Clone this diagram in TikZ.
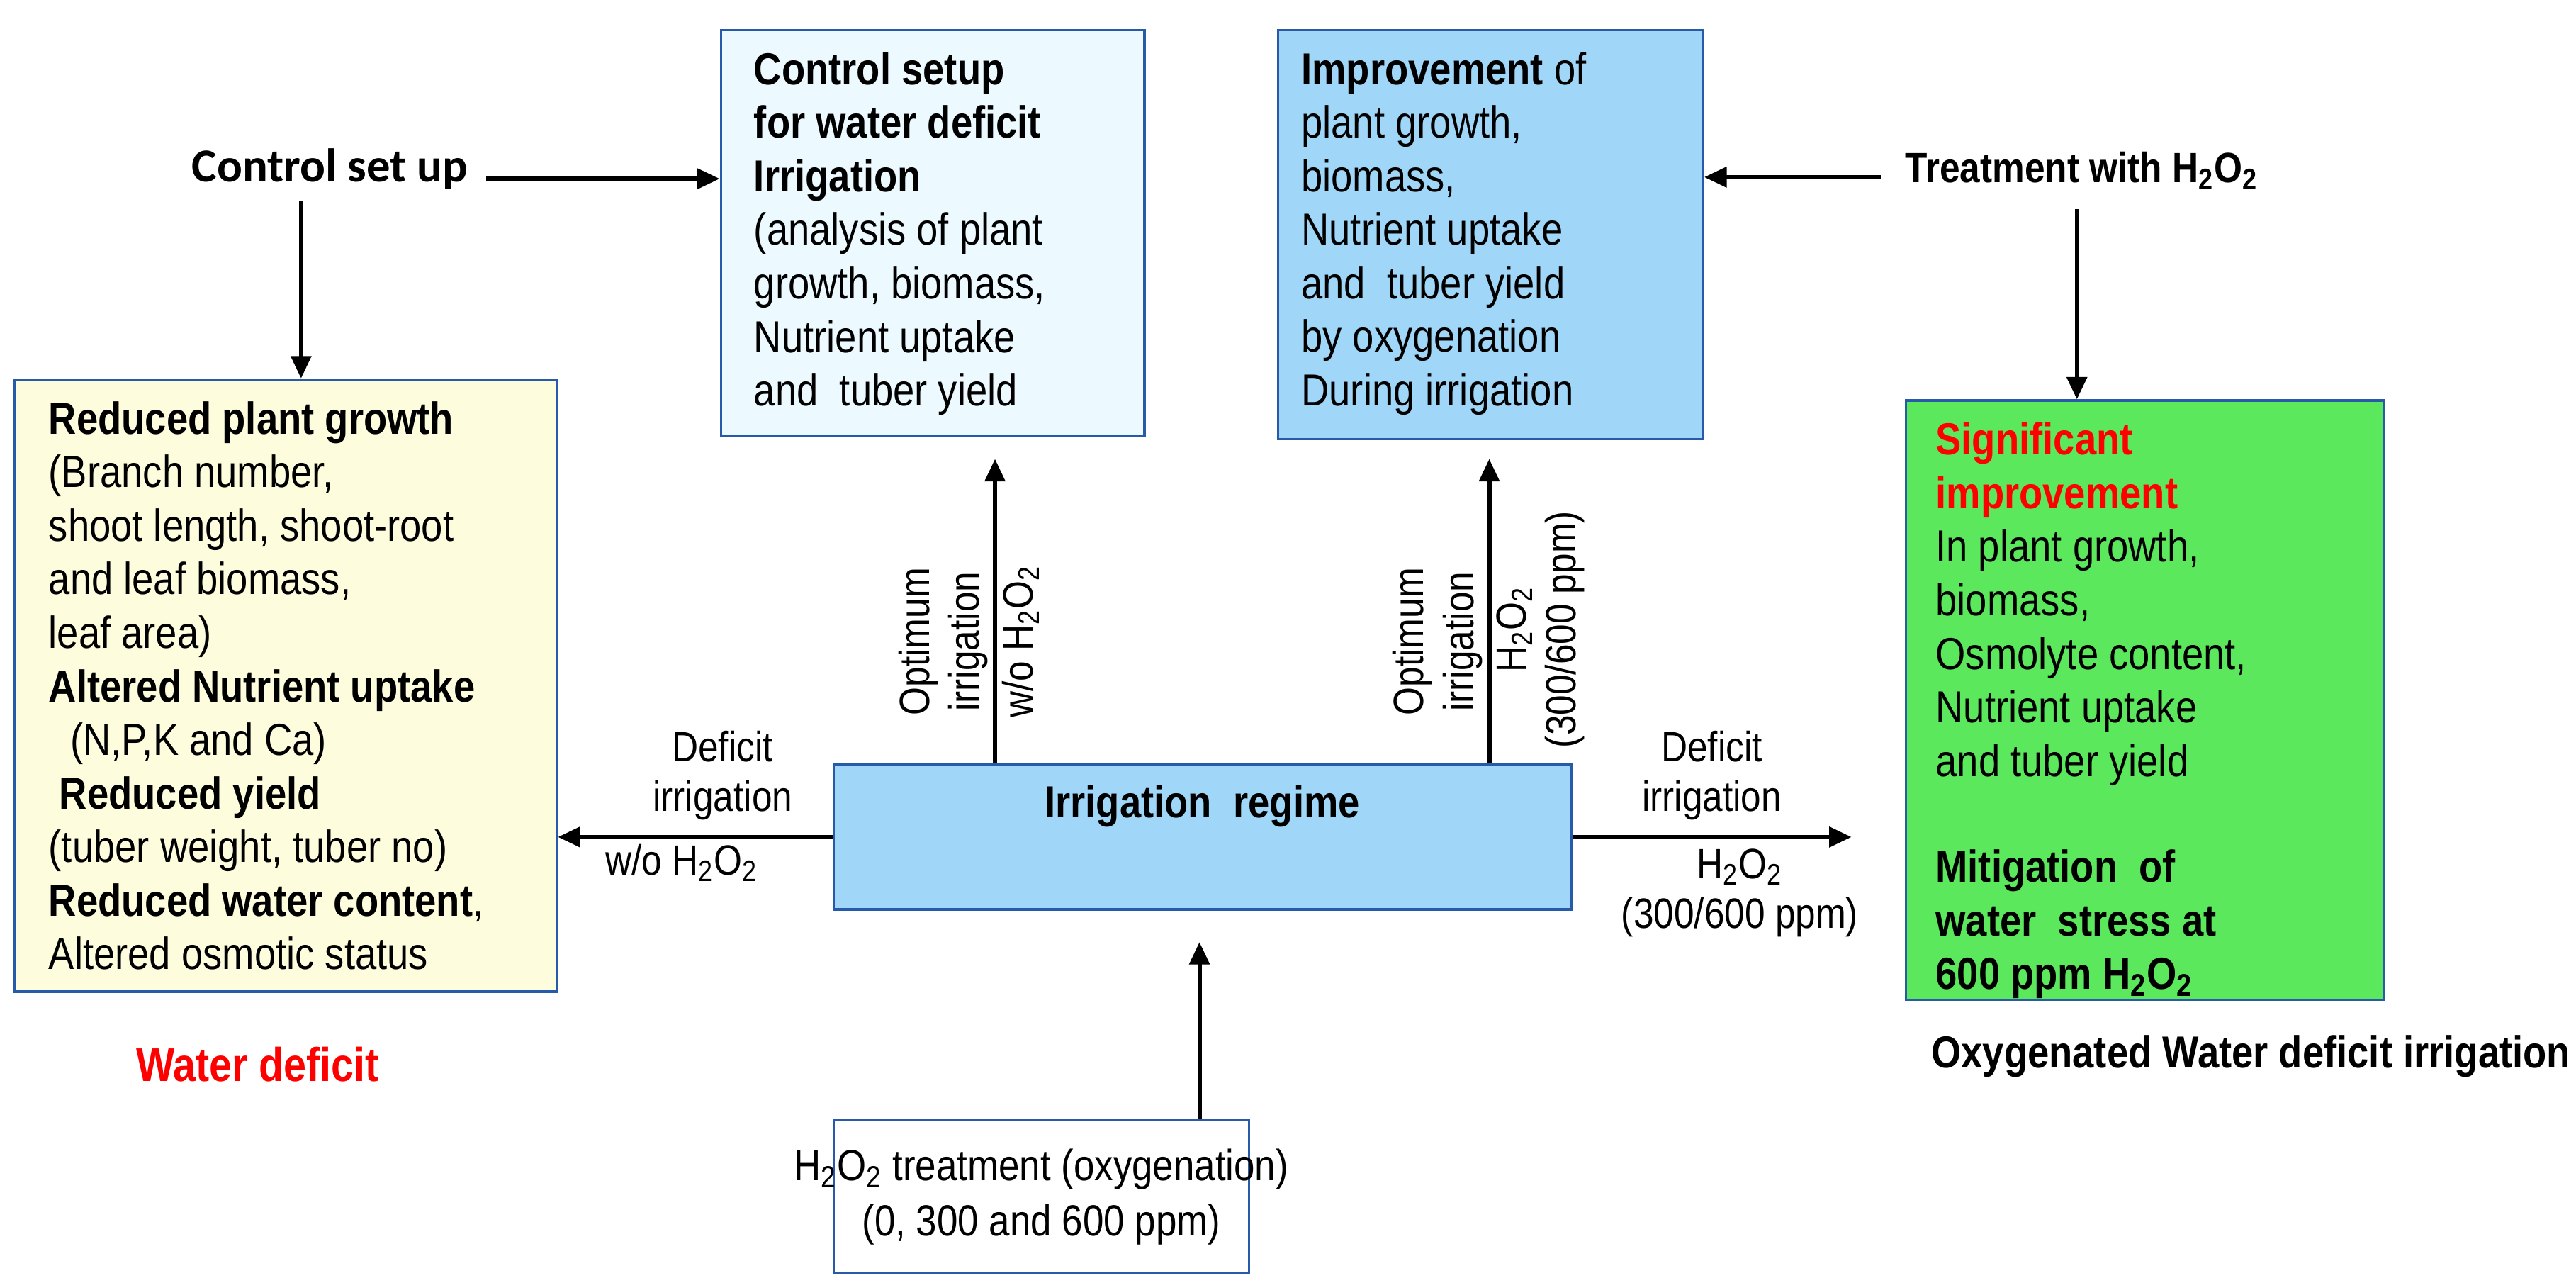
\documentclass[tikz,border=0pt]{standalone}
\usepackage{fontspec}
\setmainfont{Liberation Sans}[FakeStretch=0.86]
\newfontfamily\calib{Carlito}
\usetikzlibrary{arrows.meta,positioning}
\newcommand{\hoo}{H\textsubscript{2}O\textsubscript{2}}
\definecolor{boxblue}{RGB}{40,90,170}
\definecolor{paleyellow}{RGB}{253,252,220}
\definecolor{palecyan}{RGB}{236,250,255}
\definecolor{midblue}{RGB}{160,214,247}
\definecolor{brightgreen}{RGB}{92,232,92}
\tikzset{
  box/.style={rectangle, draw=boxblue, line width=1pt, inner sep=0pt},
  txt/.style={align=left, inner sep=0pt, font=\fontsize{18}{21.5}\selectfont},
  lbl/.style={align=center, inner sep=2pt, font=\fontsize{17}{20}\selectfont},
  arr/.style={line width=1.7pt, -{Triangle[length=9pt,width=8pt]}}
}
\begin{document}
\begin{tikzpicture}[x=0.02272cm, y=-0.02272cm]
    \useasboundingbox (0,0) rectangle (1600,793.6);
    % Boxes
    \node[box, fill=palecyan, minimum width=263*0.02272cm, minimum height=252*0.02272cm, anchor=north west] (CTL) at (447,18) {};
    \node[box, fill=midblue, minimum width=264*0.02272cm, minimum height=254*0.02272cm, anchor=north west] (IMP) at (793,18) {};
    \node[box, fill=paleyellow, minimum width=337*0.02272cm, minimum height=380*0.02272cm, anchor=north west] (WD) at (8,235) {};
    \node[box, fill=brightgreen, minimum width=297*0.02272cm, minimum height=372*0.02272cm, anchor=north west] (OXY) at (1183,248) {};
    \node[box, fill=midblue, minimum width=458*0.02272cm, minimum height=90*0.02272cm, anchor=north west] (REG) at (517,474) {};
    \node[box, fill=white, minimum width=258*0.02272cm, minimum height=95*0.02272cm, anchor=north west] (TRT) at (517,695) {};

    % Box texts
    \node[txt, anchor=north west] (CTLtxt) at (468,32) {\textbf{Control setup}\\\textbf{for water deficit}\\\textbf{Irrigation}\\(analysis of plant\\growth, biomass,\\Nutrient uptake\\and\ \ tuber yield};
    \node[txt, anchor=north west] (IMPtxt) at (808,32) {\textbf{Improvement} of\\plant growth,\\biomass,\\Nutrient uptake\\and\ \ tuber yield\\by oxygenation\\During irrigation};
    \node[txt, anchor=north west] (WDtxt) at (30,249) {\textbf{Reduced plant growth}\\(Branch number,\\shoot length, shoot-root\\and leaf biomass,\\leaf area)\\\textbf{Altered Nutrient uptake}\\\ \ (N,P,K and Ca)\\\ \textbf{Reduced yield}\\(tuber weight, tuber no)\\\textbf{Reduced water content},\\Altered osmotic status};
    \node[txt, anchor=north west] (OXYtxt) at (1202,262) {\textcolor{red}{\textbf{Significant}}\\\textcolor{red}{\textbf{improvement}}\\In plant growth,\\biomass,\\Osmolyte content,\\Nutrient uptake\\and tuber yield\\[21pt]\textbf{Mitigation\ \ of}\\\textbf{water\ \ stress at}\\\textbf{600 ppm \hoo}};
    \node[txt, font=\fontsize{18}{21.5}\selectfont\bfseries, anchor=north] (REGtxt) at (REG.north) [yshift=-0.3cm] {Irrigation\ \ regime};
    \node[txt, align=center, font=\fontsize{17.5}{22}\selectfont] (TRTtxt) at (TRT.center) {\hoo\ treatment (oxygenation)\\(0, 300 and 600 ppm)};

    % Side texts
    \node[font=\calib\bfseries\fontsize{19}{22}\selectfont] (CSU) at (205,105) {Control set up};
    \node[font=\fontsize{17}{21}\selectfont\bfseries, anchor=west] (TWH) at (1178,106) {Treatment with \hoo};
    \node[font=\fontsize{19}{22}\selectfont\bfseries, text=red] (WDlbl) at (160,661) {Water deficit};
    \node[font=\fontsize{18}{21}\selectfont\bfseries] (OXYlbl) at (1398,656) {Oxygenated Water deficit irrigation};

    % Connectors
    \coordinate (csuR) at (302,111);
    \coordinate (csuD) at (187,125);
    \coordinate (twhL) at (1168,110);
    \coordinate (twhD) at (1290,130);
    \draw[arr] (csuR) -- (CTL.west |- csuR);
    \draw[arr] (csuD) -- (csuD |- WD.north);
    \draw[arr] (twhL) -- (IMP.east |- twhL);
    \draw[arr] (twhD) -- (twhD |- OXY.north);

    \coordinate (regL) at (REG.west);
    \coordinate (regR) at (REG.east);
    \coordinate (oxyIn) at (1150,517);
    \draw[arr] (regL) -- node[lbl, above, pos=0.4, yshift=4pt] {Deficit\\irrigation} node[lbl, below, pos=0.55] {w/o \hoo} (WD.east |- regL);
    \draw[arr] (regR) -- node[lbl, above, pos=0.5, yshift=4pt] {Deficit\\irrigation} node[lbl, below, pos=0.6, yshift=-2pt] {\hoo\\(300/600 ppm)} (oxyIn |- regR);

    \coordinate (upL) at (618,474);
    \coordinate (upR) at (925,474);
    \coordinate (tipL) at (618,285);
    \coordinate (tipR) at (925,285);
    \draw[arr] (upL) -- node[lbl, rotate=90, above, pos=0.4] {Optimum\\irrigation} node[lbl, rotate=90, below, pos=0.4] {w/o \hoo} (tipL);
    \draw[arr] (upR) -- node[lbl, rotate=90, above, pos=0.4] {Optimum\\irrigation} node[lbl, rotate=90, below, pos=0.44] {\hoo\\(300/600 ppm)} (tipR);

    \coordinate (trtUp) at (745,695);
    \coordinate (trtTip) at (745,585);
    \draw[arr] (trtUp) -- (trtTip);
\end{tikzpicture}
\end{document}
